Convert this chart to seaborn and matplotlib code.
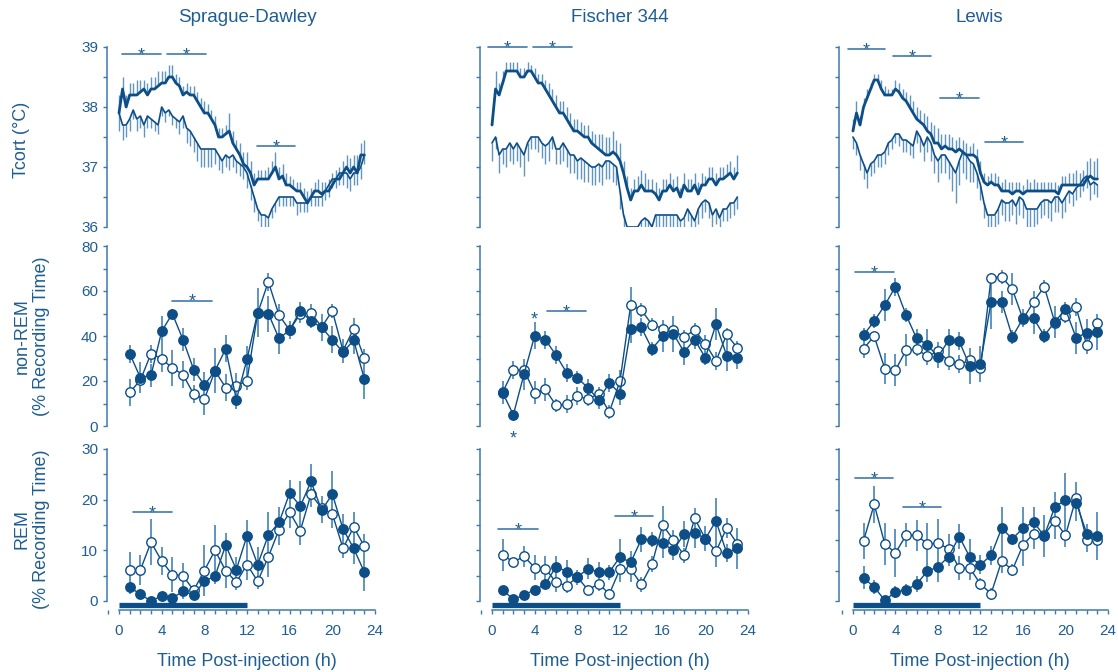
import numpy as np
import matplotlib
matplotlib.use("Agg")
import matplotlib.pyplot as plt
import seaborn as sns
from matplotlib.ticker import MultipleLocator, NullFormatter

sns.set_style("ticks")
plt.rcParams['font.family'] = ['Liberation Sans', 'DejaVu Sans']

DARK = "#0d4e86"
ERR = "#5f95c0"
TXT = "#1f5e92"
SPINE = "#3f7aab"

strains = ["Sprague-Dawley", "Fischer 344", "Lewis"]
row_labels = ["Tcort (°C)", "non-REM\n(% Recording Time)", "REM\n(% Recording Time)"]
x_label = "Time Post-injection (h)"

# ---------------- Tcort (20-min resolution, 0..23 h) ----------------
tc_hours = np.round(np.arange(70) / 3.0, 3)

sd_tc_thick = [37.9, 38.3, 38.0, 38.2, 38.2, 38.2, 38.25, 38.3, 38.2, 38.3,
               38.3, 38.35, 38.4, 38.4, 38.5, 38.5, 38.4, 38.35, 38.2, 38.25,
               38.2, 38.2, 38.1, 38.0, 37.9, 37.9, 37.8, 37.7, 37.5, 37.5,
               37.55, 37.6, 37.4, 37.3, 37.2, 37.05, 37.0, 36.9, 36.7, 36.8,
               36.8, 36.8, 36.8, 36.9, 37.0, 36.8, 36.85, 36.7, 36.7, 36.65,
               36.6, 36.6, 36.5, 36.4, 36.5, 36.6, 36.6, 36.55, 36.6, 36.6,
               36.7, 36.8, 36.8, 36.9, 37.0, 36.9, 37.0, 36.9, 37.2, 37.2]
sd_tc_thick_err = [0.3, 0.2, 0.2, 0.2, 0.2, 0.25, 0.2, 0.15, 0.2, 0.2,
                   0.2, 0.25, 0.2, 0.2, 0.2, 0.2, 0.15, 0.15, 0.15, 0.15,
                   0.15, 0.15, 0.15, 0.15, 0.2, 0.15, 0.15, 0.15, 0.15, 0.15,
                   0.15, 0.3, 0.2, 0.15, 0.2, 0.2, 0.25, 0.2, 0.2, 0.15,
                   0.15, 0.15, 0.2, 0.2, 0.25, 0.2, 0.2, 0.2, 0.15, 0.15,
                   0.15, 0.15, 0.15, 0.2, 0.15, 0.15, 0.2, 0.2, 0.15, 0.2,
                   0.2, 0.15, 0.2, 0.2, 0.2, 0.25, 0.2, 0.3, 0.2, 0.25]
sd_tc_thin = [37.9, 37.7, 37.7, 37.8, 37.95, 37.8, 37.85, 37.7, 37.85, 37.8,
              37.75, 37.7, 38.0, 37.9, 37.95, 37.85, 37.8, 37.75, 37.85, 37.65,
              37.6, 37.5, 37.4, 37.3, 37.3, 37.3, 37.3, 37.3, 37.2, 37.1,
              37.2, 37.15, 37.2, 37.1, 37.05, 37.0, 36.9, 36.7, 36.5, 36.3,
              36.2, 36.2, 36.15, 36.3, 36.4, 36.5, 36.5, 36.5, 36.5, 36.5,
              36.4, 36.4, 36.4, 36.4, 36.5, 36.5, 36.5, 36.5, 36.6, 36.7,
              36.8, 36.8, 36.9, 36.9, 36.9, 36.8, 36.9, 36.9, 37.0, 37.2]
sd_tc_thin_err = [0.3, 0.25, 0.2, 0.2, 0.15, 0.2, 0.2, 0.2, 0.2, 0.15,
                  0.15, 0.15, 0.15, 0.15, 0.1, 0.15, 0.15, 0.2, 0.2, 0.25,
                  0.25, 0.25, 0.3, 0.3, 0.3, 0.3, 0.3, 0.25, 0.25, 0.2,
                  0.2, 0.2, 0.2, 0.2, 0.2, 0.2, 0.25, 0.25, 0.25, 0.2,
                  0.2, 0.2, 0.2, 0.15, 0.15, 0.15, 0.15, 0.15, 0.15, 0.15,
                  0.2, 0.15, 0.15, 0.15, 0.15, 0.15, 0.15, 0.15, 0.15, 0.2,
                  0.15, 0.15, 0.2, 0.2, 0.25, 0.2, 0.2, 0.2, 0.2, 0.15]

fi_tc_thick = [37.7, 38.3, 38.2, 38.4, 38.6, 38.6, 38.6, 38.6, 38.5, 38.5,
               38.6, 38.6, 38.5, 38.4, 38.4, 38.3, 38.2, 38.1, 38.0, 37.9,
               37.9, 37.8, 37.7, 37.6, 37.6, 37.55, 37.5, 37.5, 37.4, 37.35,
               37.3, 37.25, 37.2, 37.2, 37.25, 37.2, 37.1, 36.9, 36.65, 36.45,
               36.6, 36.6, 36.7, 36.6, 36.6, 36.6, 36.55, 36.45, 36.6, 36.6,
               36.7, 36.6, 36.65, 36.5, 36.7, 36.6, 36.6, 36.7, 36.55, 36.7,
               36.7, 36.8, 36.8, 36.7, 36.8, 36.8, 36.85, 36.9, 36.8, 36.9]
fi_tc_thick_err = [0.1, 0.3, 0.2, 0.2, 0.15, 0.15, 0.15, 0.15, 0.15, 0.15,
                   0.15, 0.1, 0.15, 0.15, 0.15, 0.15, 0.2, 0.2, 0.2, 0.2,
                   0.2, 0.2, 0.2, 0.2, 0.2, 0.2, 0.2, 0.2, 0.2, 0.2,
                   0.25, 0.3, 0.3, 0.3, 0.35, 0.25, 0.3, 0.2, 0.2, 0.2,
                   0.2, 0.25, 0.25, 0.3, 0.2, 0.2, 0.2, 0.2, 0.2, 0.2,
                   0.2, 0.2, 0.2, 0.15, 0.2, 0.2, 0.2, 0.2, 0.2, 0.2,
                   0.15, 0.2, 0.2, 0.2, 0.2, 0.2, 0.2, 0.2, 0.2, 0.3]
fi_tc_thin = [37.4, 37.5, 37.2, 37.3, 37.3, 37.4, 37.3, 37.4, 37.3, 37.2,
              37.4, 37.5, 37.5, 37.5, 37.4, 37.35, 37.4, 37.5, 37.3, 37.3,
              37.4, 37.3, 37.2, 37.2, 37.1, 37.15, 37.1, 37.05, 37.0, 37.0,
              37.05, 37.0, 37.1, 37.1, 37.05, 37.0, 36.6, 36.2, 36.0, 36.0,
              36.0, 36.0, 36.1, 36.15, 36.1, 36.0, 36.2, 36.2, 36.2, 36.2,
              36.2, 36.2, 36.2, 36.1, 36.15, 36.3, 36.2, 36.1, 36.3, 36.4,
              36.45, 36.4, 36.2, 36.3, 36.15, 36.3, 36.3, 36.4, 36.4, 36.5]
fi_tc_thin_err = [0.3, 0.2, 0.3, 0.25, 0.3, 0.3, 0.25, 0.3, 0.3, 0.35,
                  0.3, 0.2, 0.2, 0.25, 0.25, 0.3, 0.3, 0.2, 0.25, 0.25,
                  0.3, 0.3, 0.3, 0.3, 0.3, 0.35, 0.35, 0.3, 0.3, 0.3,
                  0.3, 0.3, 0.3, 0.3, 0.3, 0.3, 0.3, 0.3, 0.2, 0.2,
                  0.2, 0.2, 0.2, 0.2, 0.2, 0.2, 0.2, 0.2, 0.2, 0.25,
                  0.25, 0.25, 0.25, 0.25, 0.25, 0.2, 0.25, 0.25, 0.25, 0.25,
                  0.2, 0.25, 0.3, 0.25, 0.25, 0.2, 0.2, 0.25, 0.2, 0.2]

lw_tc_thick = [37.6, 37.9, 37.7, 38.0, 38.15, 38.3, 38.45, 38.45, 38.3, 38.2,
               38.2, 38.2, 38.3, 38.25, 38.15, 38.1, 38.0, 37.9, 37.8, 37.75,
               37.7, 37.6, 37.55, 37.4, 37.4, 37.3, 37.35, 37.3, 37.3, 37.25,
               37.3, 37.25, 37.2, 37.2, 37.2, 37.15, 36.9, 36.75, 36.7, 36.75,
               36.7, 36.7, 36.6, 36.6, 36.6, 36.55, 36.6, 36.6, 36.55, 36.6,
               36.6, 36.6, 36.6, 36.6, 36.6, 36.6, 36.6, 36.6, 36.55, 36.7,
               36.7, 36.7, 36.7, 36.7, 36.7, 36.7, 36.8, 36.85, 36.8, 36.8]
lw_tc_thick_err = [0.2, 0.2, 0.15, 0.15, 0.15, 0.1, 0.1, 0.1, 0.15, 0.15,
                   0.1, 0.1, 0.15, 0.15, 0.15, 0.15, 0.2, 0.2, 0.2, 0.2,
                   0.2, 0.25, 0.2, 0.3, 0.25, 0.25, 0.2, 0.25, 0.2, 0.2,
                   0.2, 0.2, 0.2, 0.15, 0.2, 0.15, 0.2, 0.15, 0.15, 0.15,
                   0.2, 0.15, 0.15, 0.2, 0.15, 0.2, 0.15, 0.15, 0.15, 0.2,
                   0.15, 0.2, 0.15, 0.15, 0.15, 0.15, 0.15, 0.15, 0.15, 0.15,
                   0.15, 0.2, 0.2, 0.25, 0.2, 0.25, 0.3, 0.3, 0.3, 0.35]
lw_tc_thin = [37.5, 37.4, 37.2, 37.05, 36.9, 37.05, 37.1, 37.2, 37.2, 37.25,
              37.4, 37.45, 37.55, 37.55, 37.45, 37.45, 37.4, 37.35, 37.6, 37.5,
              37.35, 37.5, 37.4, 37.2, 37.1, 37.2, 37.2, 37.1, 37.0, 36.9,
              37.1, 37.25, 37.2, 37.1, 37.05, 36.9, 36.7, 36.4, 36.2, 36.2,
              36.2, 36.3, 36.45, 36.4, 36.4, 36.45, 36.35, 36.5, 36.45, 36.3,
              36.3, 36.3, 36.3, 36.4, 36.45, 36.45, 36.4, 36.5, 36.5, 36.4,
              36.5, 36.6, 36.55, 36.65, 36.7, 36.8, 36.85, 36.7, 36.75, 36.7]
lw_tc_thin_err = [0.2, 0.2, 0.25, 0.25, 0.25, 0.2, 0.2, 0.2, 0.2, 0.2,
                  0.2, 0.15, 0.15, 0.2, 0.2, 0.2, 0.2, 0.2, 0.2, 0.25,
                  0.25, 0.25, 0.3, 0.3, 0.35, 0.3, 0.3, 0.3, 0.4, 0.5,
                  0.4, 0.35, 0.4, 0.35, 0.3, 0.25, 0.25, 0.25, 0.2, 0.2,
                  0.2, 0.25, 0.25, 0.3, 0.3, 0.25, 0.3, 0.3, 0.3, 0.3,
                  0.3, 0.3, 0.25, 0.25, 0.25, 0.3, 0.3, 0.25, 0.25, 0.25,
                  0.25, 0.2, 0.2, 0.2, 0.2, 0.2, 0.2, 0.25, 0.2, 0.2]

# ---------------- hourly sleep data (1..23 h) ----------------
hours = list(range(1, 24))

sd_nrem_filled = [32.2, 21.5, 22.5, 42.1, 49.9, 38.4, 25.1, 18.2, 24.5, 34.3, 11.7, 29.7,
                  50.4, 50.0, 38.9, 42.6, 51.3, 46.6, 43.8, 38.3, 32.8, 38.1, 20.9]
sd_nrem_filled_err = [4, 7, 5, 7, 2, 5, 5, 6, 10, 6, 4, 6, 11, 8, 7, 4, 4, 3, 6, 6, 5, 6, 9]
sd_nrem_open = [15.0, 20.3, 32.2, 29.8, 25.8, 22.8, 14.2, 11.9, 24.5, 17.1, 17.7, 20.2,
                50.1, 64.1, 49.3, 42.6, 50.0, 50.3, 44.0, 51.2, 33.5, 43.2, 30.1]
sd_nrem_open_err = [6, 5, 4, 6, 8, 6, 4, 7, 4, 6, 6, 4, 6, 4, 5, 4, 4, 4, 3, 3, 5, 5, 4]

fi_nrem_filled = [14.8, 5.0, 23.0, 40.1, 38.4, 31.5, 23.7, 21.5, 16.9, 11.7, 19.1, 14.4,
                  42.9, 43.8, 34.3, 39.8, 41.1, 32.9, 38.4, 30.3, 45.3, 31.3, 30.3]
fi_nrem_filled_err = [5, 2, 7, 6, 4, 4, 4, 3, 4, 4, 4, 5, 6, 4, 3, 7, 8, 6, 4, 3, 7, 7, 5]
fi_nrem_open = [15.0, 24.8, 24.8, 14.8, 16.3, 9.2, 9.6, 13.4, 11.9, 14.4, 6.2, 20.0,
                53.7, 51.5, 45.1, 43.3, 42.6, 39.6, 42.6, 36.6, 28.9, 40.7, 34.7]
fi_nrem_open_err = [5, 4, 3, 5, 5, 3, 4, 4, 3, 3, 3, 5, 8, 3, 3, 4, 3, 3, 3, 4, 4, 3, 3]

lw_nrem_filled = [40.4, 46.6, 53.7, 61.9, 49.3, 38.9, 36.2, 30.7, 38.1, 37.7, 26.6, 27.7,
                  55.2, 55.2, 39.6, 47.8, 47.8, 40.1, 46.3, 51.9, 39.2, 41.5, 41.8]
lw_nrem_filled_err = [3, 3, 7, 4, 3, 4, 7, 5, 5, 4, 8, 8, 12, 5, 3, 4, 7, 3, 7, 3, 7, 6, 8]
lw_nrem_open = [34.4, 39.9, 25.5, 24.8, 33.7, 34.1, 31.0, 33.2, 28.9, 27.4, 29.2, 25.8,
                65.9, 66.3, 60.8, 47.5, 55.2, 61.9, 46.0, 48.8, 52.7, 35.9, 46.0]
lw_nrem_open_err = [4, 2, 7, 7, 7, 3, 4, 4, 4, 4, 4, 3, 2, 3, 7, 3, 5, 3, 3, 3, 4, 4, 4]

sd_rem_filled = [2.8, 1.3, 0.0, 1.0, 0.6, 1.9, 1.2, 3.9, 4.9, 11.0, 6.2, 12.9,
                 7.2, 13.0, 15.5, 21.3, 18.7, 23.6, 17.9, 21.1, 14.2, 10.4, 5.7]
sd_rem_filled_err = [1.5, 1, 0.5, 0.8, 0.5, 1.5, 1, 3, 1.5, 2.5, 2.5, 3,
                     3.5, 4.5, 3, 2.5, 5, 3.5, 2.5, 4.5, 3, 3, 3.7]
sd_rem_open = [6.1, 6.1, 11.6, 7.9, 5.2, 5.0, 2.1, 6.0, 10.0, 6.0, 3.7, 7.2,
               3.9, 8.7, 14.1, 17.5, 13.9, 21.1, 18.3, 17.2, 10.4, 14.6, 10.8]
sd_rem_open_err = [3.5, 3, 4.5, 2.8, 3.5, 2.5, 1, 5, 5, 3.5, 1.5, 3,
                   1.5, 4, 3, 3, 2.8, 2.5, 2.5, 2.8, 2, 3, 2.5]

fi_rem_filled = [2.2, 0.3, 1.2, 2.2, 3.3, 6.8, 5.8, 4.7, 6.4, 5.7, 5.7, 8.7,
                 7.6, 12.2, 12.1, 11.4, 10.0, 13.2, 13.5, 12.3, 15.8, 9.5, 10.4]
fi_rem_filled_err = [0.5, 0.3, 0.5, 0.8, 1, 2, 2.2, 1.5, 2, 2, 1.5, 3.5,
                     2.2, 2.5, 1.5, 3, 2, 2.5, 3, 2.5, 4.5, 1.8, 4]
fi_rem_open = [9.1, 7.7, 8.8, 6.6, 6.4, 3.7, 3.0, 4.7, 2.2, 3.4, 1.4, 6.3,
               6.3, 3.3, 7.3, 15.0, 12.1, 9.0, 16.3, 12.3, 9.8, 14.4, 11.3]
fi_rem_open_err = [3.2, 0.8, 2, 2.5, 2.5, 2, 1.5, 1.5, 1, 1.5, 1, 2.5,
                   2.5, 1.5, 1.5, 3.8, 2, 1.5, 2, 2, 3, 2, 2.5]

lw_rem_filled = [3.8, 2.3, 0.1, 1.5, 1.8, 2.8, 4.9, 5.6, 7.3, 10.6, 7.2, 6.0,
                 7.5, 12.0, 10.2, 12.0, 13.0, 10.7, 15.5, 16.6, 16.2, 11.1, 10.7]
lw_rem_filled_err = [1.9, 1.2, 0.3, 1, 1, 1.3, 1.7, 2.5, 1.5, 2, 3, 1.5,
                     1.5, 3.5, 0.8, 3.5, 2.5, 3.5, 2.5, 4.5, 3, 1.5, 4]
lw_rem_open = [9.9, 15.9, 9.4, 7.9, 10.8, 10.8, 9.4, 9.5, 8.6, 5.4, 5.4, 2.8,
               1.2, 6.6, 5.1, 9.2, 11.1, 10.9, 13.2, 10.8, 17.0, 10.0, 10.1]
lw_rem_open_err = [3, 3, 3.5, 4, 2, 2.5, 3.5, 4, 2.5, 2, 2, 1,
                   1, 2, 1, 3.5, 2.5, 2, 3, 2, 2.5, 2, 2.5]

# significance bars: (start h, end h, level) per panel
sig_tc = [[(0.3, 3.9, 38.88), (4.5, 8.2, 38.88), (12.9, 16.5, 37.35)],
          [(-0.4, 3.3, 39.0), (3.8, 7.5, 39.0)],
          [(-0.5, 3.0, 38.97), (3.8, 7.3, 38.85), (8.2, 11.9, 38.15), (12.4, 16.0, 37.42)]]
sig_nrem = [[(5.0, 8.7, 55.7)], [(5.2, 8.8, 51.1)], [(0.2, 3.9, 68.4)]]
sig_rem = [[(1.3, 5.0, 17.5)], [(0.6, 4.3, 14.2), (11.5, 15.1, 16.8)], [(0.2, 3.8, 20.2), (4.7, 8.3, 15.4)]]
single_stars_nrem = [[], [(4, 49.3), (2, -3.4)], []]
dark_period = (0, 12)

tc_data = [(sd_tc_thick, sd_tc_thick_err, sd_tc_thin, sd_tc_thin_err),
           (fi_tc_thick, fi_tc_thick_err, fi_tc_thin, fi_tc_thin_err),
           (lw_tc_thick, lw_tc_thick_err, lw_tc_thin, lw_tc_thin_err)]
nrem_data = [(sd_nrem_filled, sd_nrem_filled_err, sd_nrem_open, sd_nrem_open_err),
             (fi_nrem_filled, fi_nrem_filled_err, fi_nrem_open, fi_nrem_open_err),
             (lw_nrem_filled, lw_nrem_filled_err, lw_nrem_open, lw_nrem_open_err)]
rem_data = [(sd_rem_filled, sd_rem_filled_err, sd_rem_open, sd_rem_open_err),
            (fi_rem_filled, fi_rem_filled_err, fi_rem_open, fi_rem_open_err),
            (lw_rem_filled, lw_rem_filled_err, lw_rem_open, lw_rem_open_err)]

# ---------------- layout (pixels) ----------------
W, H = 1118, 672
fig = plt.figure(figsize=(W / 100, H / 100), dpi=100)
cols = [(107, 375, -1.125), (480, 748, -1.125), (839, 1108, -1.31)]
rows = [(47, 227), (246, 426), (449, 610)]
TL = 2.9  # tick length (pt)


def make_ax(c, r):
    x0, x1, xmin = cols[c]
    y0, y1 = rows[r]
    ax = fig.add_axes([x0 / W, 1 - y1 / H, (x1 - x0) / W, (y1 - y0) / H])
    ax.set_xlim(xmin, 24)
    for s in ["top", "right"]:
        ax.spines[s].set_visible(False)
    for s in ["left", "bottom"]:
        ax.spines[s].set_color(SPINE)
        ax.spines[s].set_linewidth(1.1)
    ax.tick_params(axis="both", which="both", length=TL, width=1.0, color=SPINE,
                   labelcolor=TXT, labelsize=11, direction="out")
    ax.tick_params(axis="y", which="both", pad=3.5)
    ax.set_facecolor("none")
    return ax


def star_bar(ax, x0, x1, y):
    ax.plot([x0, x1], [y, y], color=SPINE, lw=1.2, clip_on=False, zorder=5)
    ax.annotate("*", xy=((x0 + x1) / 2, y), xytext=(0, -4.5), textcoords="offset points",
                ha="center", va="baseline", fontsize=13, color=TXT, annotation_clip=False)


def star(ax, x, y):
    ax.annotate("*", xy=(x, y), xytext=(0, -7), textcoords="offset points",
                ha="center", va="baseline", fontsize=13, color=TXT, annotation_clip=False)


def sleep_series(ax, filled, filled_err, opn, opn_err):
    ax.errorbar(hours, opn, yerr=opn_err, fmt="none", ecolor=ERR, elinewidth=1.4, capsize=0, zorder=1)
    ax.errorbar(hours, filled, yerr=filled_err, fmt="none", ecolor=ERR, elinewidth=1.4, capsize=0, zorder=1)
    sns.lineplot(x=hours, y=opn, ax=ax, color=DARK, lw=1.0, marker="o", markersize=6.8,
                 markerfacecolor="white", markeredgecolor=DARK, markeredgewidth=1.0, zorder=3)
    sns.lineplot(x=hours, y=filled, ax=ax, color=DARK, lw=1.0, marker="o", markersize=6.8,
                 markerfacecolor=DARK, markeredgecolor=DARK, markeredgewidth=1.0, zorder=4)


for c in range(3):
    # ---- Tcort ----
    ax = make_ax(c, 0)
    thick, thick_err, thin, thin_err = tc_data[c]
    thick = np.array(thick); thin = np.array(thin)
    ax.vlines(tc_hours, thick, thick + np.array(thick_err), color=ERR, lw=1.0, zorder=1)
    ax.vlines(tc_hours, thin, thin - np.array(thin_err), color=ERR, lw=1.0, zorder=1)
    sns.lineplot(x=tc_hours, y=thin, ax=ax, color=DARK, lw=1.2, zorder=2)
    sns.lineplot(x=tc_hours, y=thick, ax=ax, color=DARK, lw=2.0, zorder=3)
    ax.set_ylim(36, 39)
    ax.yaxis.set_major_locator(MultipleLocator(1))
    ax.yaxis.set_minor_locator(MultipleLocator(0.5))
    ax.spines["bottom"].set_visible(False)
    ax.set_xticks([])
    for (a, b, y) in sig_tc[c]:
        star_bar(ax, a, b, y)
    if c > 0:
        ax.yaxis.set_major_formatter(NullFormatter())
    ax.set_xlabel(""); ax.set_ylabel("")

    # ---- non-REM ----
    ax = make_ax(c, 1)
    sleep_series(ax, *nrem_data[c])
    ax.set_ylim(0, 80)
    ax.yaxis.set_major_locator(MultipleLocator(20))
    ax.yaxis.set_minor_locator(MultipleLocator(10))
    ax.spines["bottom"].set_visible(False)
    ax.set_xticks([])
    for (a, b, y) in sig_nrem[c]:
        star_bar(ax, a, b, y)
    for (x, y) in single_stars_nrem[c]:
        star(ax, x, y)
    if c > 0:
        ax.yaxis.set_major_formatter(NullFormatter())
    ax.set_xlabel(""); ax.set_ylabel("")

    # ---- REM ----
    ax = make_ax(c, 2)
    sleep_series(ax, *rem_data[c])
    if c < 2:
        top = 30
        ax.yaxis.set_major_locator(MultipleLocator(10))
        ax.yaxis.set_minor_locator(MultipleLocator(5))
    else:
        top = 25
        ax.yaxis.set_major_locator(MultipleLocator(5))
    ymin = -9.0 / (152.0 / top)
    ax.set_ylim(ymin, top)
    ax.spines["left"].set_bounds(0, top)
    ax.spines["bottom"].set_bounds(0, 24)
    ax.xaxis.set_major_locator(MultipleLocator(4))
    ax.xaxis.set_minor_locator(MultipleLocator(1))
    ax.tick_params(axis="x", which="both", pad=7.5)
    for (a, b, y) in sig_rem[c]:
        star_bar(ax, a, b, y)
    ax.plot(list(dark_period), [0.028, 0.028], transform=ax.get_xaxis_transform(),
            color=DARK, lw=3.8, solid_capstyle="butt", clip_on=False, zorder=5)
    if c > 0:
        ax.yaxis.set_major_formatter(NullFormatter())
    ax.set_xlabel(""); ax.set_ylabel("")

    # titles and x labels
    xc = (cols[c][0] + 12 + cols[c][1]) / 2
    fig.text(xc / W, 1 - 18 / H, strains[c], ha="center", va="center", fontsize=13.5, color=TXT)
    fig.text(xc / W, 1 - 661 / H, x_label, ha="center", va="center", fontsize=13, color=TXT)

fig.text(21 / W, 1 - 140 / H, row_labels[0], rotation=90, ha="center", va="center",
         fontsize=13, color=TXT)
fig.text(32 / W, 1 - 336 / H, row_labels[1], rotation=90, ha="center", va="center",
         fontsize=13, color=TXT, multialignment="center")
fig.text(32 / W, 1 - 529 / H, row_labels[2], rotation=90, ha="center", va="center",
         fontsize=13, color=TXT, multialignment="center")

fig.savefig("out.png", dpi=100, facecolor="white")
